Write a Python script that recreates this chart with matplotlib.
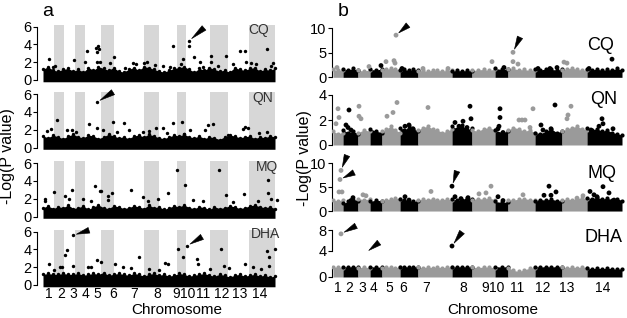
import numpy as np
import matplotlib.pyplot as plt

plt.rcParams['font.family'] = ['Liberation Sans', 'DejaVu Sans']

# ---- chromosome layout (map units along the genome) ----
chrom_labels = [str(i) for i in range(1, 15)]
a_bounds = [0, 11, 21, 32, 42, 58, 71, 101, 116, 134, 143, 167, 185, 206, 232]
b_bounds = [0, 10, 25, 37, 49, 67, 85, 119, 139, 162, 175, 202, 229, 254, 289]
traits = ['CQ', 'QN', 'MQ', 'DHA']

# ---- panel a: upper edge of the dense point cloud (evenly along the genome) ----
a_env = {
    'CQ': [1.2, 1.5, 1.1, 1.0, 1.2, 1.3, 1.0, 1.2, 0.9, 1.4, 1.1, 1.5, 1.3, 1.1, 1.4, 1.0,
           0.9, 1.2, 1.4, 1.1, 1.5, 1.4, 1.2, 1.0, 0.9, 1.1, 1.3, 1.4, 1.5, 1.2, 0.9, 1.3,
           1.1, 1.4, 1.2, 1.0, 1.1, 0.9, 1.4, 1.2, 1.1, 1.3, 1.4, 1.0, 1.2, 1.1, 1.3],
    'QN': [1.3, 1.1, 1.4, 1.2, 1.0, 1.3, 1.5, 1.2, 1.1, 1.4, 1.3, 1.0, 1.2, 1.5, 1.3, 1.1,
           1.2, 1.0, 1.3, 1.4, 1.2, 1.5, 1.3, 1.1, 1.0, 1.2, 1.4, 1.3, 1.5, 1.2, 1.1, 1.3,
           1.0, 1.2, 1.1, 0.9, 1.2, 1.4, 1.3, 1.1, 1.2, 1.3, 1.0, 1.2, 1.1, 1.3, 1.2],
    'MQ': [1.0, 1.2, 0.9, 1.1, 1.0, 1.3, 0.9, 1.0, 1.2, 0.8, 1.1, 1.3, 1.0, 0.9, 1.2, 1.1,
           0.9, 1.0, 1.2, 1.1, 0.9, 1.3, 1.0, 1.1, 0.8, 1.0, 1.2, 1.1, 1.3, 1.0, 0.9, 1.1,
           1.0, 0.8, 1.1, 0.9, 1.0, 1.2, 1.1, 0.9, 1.0, 1.2, 1.3, 1.1, 1.0, 1.1, 0.9],
    'DHA': [1.2, 1.3, 1.2, 1.2, 1.3, 1.2, 1.2, 1.3, 1.1, 1.2, 1.3, 1.2, 1.4, 1.1, 1.2, 1.3,
            1.2, 1.1, 1.3, 1.2, 1.0, 1.2, 1.3, 1.1, 1.2, 1.0, 1.1, 1.3, 1.2, 1.0, 1.1, 1.2,
            1.3, 1.1, 1.0, 1.2, 1.1, 0.9, 1.1, 1.2, 1.0, 1.1, 1.2, 1.0, 1.1, 0.9, 1.0],
}

# ---- panel a: individual markers above the cloud (position, -log P) ----
a_pos = {
    'CQ': [6, 31, 42, 44, 53, 54, 55, 56, 54, 71, 130, 146, 146, 140, 151, 168, 168, 183, 197,
           202, 224, 203, 208, 138, 157, 10, 12, 57, 67, 82, 90, 93, 101, 104, 112, 120, 127,
           160, 175, 190, 213, 230, 228],
    'QN': [54, 14, 70, 81, 130, 139, 46, 54, 165, 170, 202, 86, 24, 29, 4, 8, 113, 120, 106,
           147, 162, 200, 205, 224, 216, 33, 60, 74, 100, 124, 141, 185],
    'MQ': [134, 176, 142, 225, 225, 52, 57, 58, 29, 11, 88, 69, 125, 201, 65, 65, 22, 26, 183,
           234, 2, 2, 40, 48, 100, 105, 115, 150, 160, 190, 215, 228],
    'DHA': [30, 24, 22, 30, 6, 17, 19, 135, 144, 140, 154, 155, 178, 224, 232, 226, 96, 54, 58,
            72, 226, 202, 181, 186, 167, 11, 45, 48, 80, 88, 106, 116, 122, 125, 210, 218],
}
a_val = {
    'CQ': [2.4, 2.3, 2.0, 3.3, 3.6, 3.1, 3.8, 3.5, 2.0, 2.6, 3.8, 4.4, 3.8, 2.4, 2.6, 2.7, 2.0,
           2.7, 3.3, 3.3, 3.5, 2.0, 1.9, 1.8, 2.0, 1.5, 1.6, 2.0, 1.9, 1.4, 1.9, 1.8, 1.9, 2.0,
           1.7, 1.6, 1.5, 1.5, 1.6, 1.8, 1.8, 1.9, 1.6],
    'QN': [5.1, 3.1, 2.9, 2.8, 2.8, 2.9, 2.6, 2.2, 2.5, 2.7, 2.3, 2.0, 2.0, 2.0, 1.9, 2.1, 2.2,
           2.2, 1.9, 2.0, 2.0, 2.1, 2.2, 1.8, 1.6, 1.7, 2.0, 1.8, 1.8, 1.6, 1.5, 1.4],
    'MQ': [5.2, 5.2, 3.6, 4.1, 2.7, 3.4, 2.9, 2.9, 3.0, 2.8, 3.0, 2.6, 2.7, 2.5, 2.3, 1.9, 2.3,
           2.0, 2.4, 1.9, 2.0, 1.7, 2.0, 1.8, 2.2, 1.8, 2.0, 1.9, 1.8, 1.6, 1.8, 2.0],
    'DHA': [5.6, 3.9, 3.4, 2.1, 2.4, 2.0, 2.0, 4.1, 4.4, 3.2, 2.9, 2.4, 4.1, 3.8, 4.1, 3.2, 3.1,
            2.8, 2.6, 2.4, 2.1, 2.4, 2.1, 1.9, 1.8, 1.7, 2.0, 2.0, 2.0, 1.9, 1.8, 1.7, 2.5, 2.4,
            2.0, 1.8],
}

# ---- panel b: upper edge of the point band, per chromosome ----
b_env = {
    'CQ': [[1.6, 1.4, 1.5], [1.7, 1.5, 1.8, 1.4], [1.4, 1.3, 1.5], [1.6, 1.5, 1.7],
           [1.5, 1.6, 1.9, 1.7, 1.5], [1.5, 1.6, 1.4, 1.6, 1.5],
           [1.3, 1.4, 1.2, 1.5, 1.4, 1.3, 1.4, 1.5], [1.3, 1.4, 1.3, 1.4, 1.3],
           [1.4, 1.5, 1.6, 1.4, 1.7], [1.8, 1.6, 1.7], [1.7, 1.8, 1.5, 1.6, 1.4, 1.5],
           [1.6, 1.5, 1.7, 1.6, 1.5, 1.6], [1.5, 1.7, 1.9, 1.6, 1.5, 1.4],
           [1.6, 1.5, 1.7, 1.4, 1.6, 1.5, 1.8, 1.5]],
    'QN': [[1.1, 0.9, 1.0], [1.2, 1.0, 1.1, 0.9], [1.0, 1.2, 1.1], [1.3, 1.1, 1.0],
           [1.1, 1.3, 1.5, 1.2, 1.0], [1.4, 1.2, 1.5, 1.3, 1.1],
           [1.2, 1.4, 1.5, 1.3, 1.2, 1.0, 1.1, 1.3], [1.5, 1.3, 1.6, 1.2, 1.4],
           [1.2, 1.1, 1.3, 1.4, 1.2], [1.2, 1.0, 1.1], [1.2, 1.4, 1.3, 1.1, 1.2, 1.0],
           [1.0, 0.9, 1.1, 1.3, 1.0, 1.1], [1.1, 1.3, 1.4, 1.5, 1.3, 1.2],
           [1.4, 1.2, 1.3, 1.1, 1.2, 1.0, 0.9, 0.8]],
    'MQ': [[2.3, 2.1, 2.4], [1.6, 2.0, 2.4, 2.2], [2.6, 2.4, 2.5], [2.0, 2.3, 2.1],
           [2.2, 2.4, 2.5, 2.7, 2.5], [2.6, 2.4, 2.2, 2.0, 2.1],
           [2.3, 2.5, 2.4, 2.6, 2.3, 2.4, 2.5, 2.3], [2.5, 2.3, 2.4, 2.8, 2.6],
           [2.4, 2.6, 2.5, 2.7, 2.4], [2.0, 1.8, 1.9], [2.4, 2.3, 2.5, 2.6, 2.4, 2.3],
           [2.2, 2.4, 2.3, 2.5, 2.2, 2.1], [2.3, 2.5, 2.4, 2.6, 2.7, 2.5],
           [2.8, 2.6, 2.9, 2.5, 2.7, 2.4, 2.6, 2.2]],
    'DHA': [[1.8, 1.8, 1.7], [1.9, 1.8, 1.9, 1.8], [1.7, 1.8, 1.7], [1.9, 1.8, 1.8],
            [1.7, 1.8, 1.8, 1.7, 1.8], [1.8, 1.9, 1.8, 1.9, 1.8],
            [1.8, 1.7, 1.8, 1.7, 1.8, 1.7, 1.8, 1.8], [1.9, 1.8, 1.9, 1.8, 1.9],
            [1.8, 1.7, 1.8, 1.8, 1.7], [1.9, 1.8, 1.9], [1.7, 1.2, 1.0, 1.3, 1.6, 1.7],
            [1.9, 1.8, 1.9, 1.8, 1.9, 1.8], [1.8, 1.7, 1.8, 1.7, 1.8, 1.7],
            [1.6, 1.5, 1.6, 1.5, 1.6, 1.5, 1.4, 1.5]],
}

# ---- panel b: individual markers above the band ----
b_pos = {
    'CQ': [63, 4, 36, 48, 53, 61, 62, 69, 90, 115, 159, 171, 180, 180, 185, 205, 217, 224, 231,
           234, 279, 256],
    'QN': [5, 6, 3, 16, 26, 26, 28, 54, 60, 64, 95, 137, 138, 167, 167, 166, 186, 189, 192, 197,
           200, 208, 222, 234, 235, 238, 269, 270, 13, 15, 18, 72, 76, 80, 122, 126, 130, 134,
           165, 170, 210, 218, 258, 266, 280],
    'MQ': [8, 7, 6, 9, 18, 20, 30, 33, 72, 76, 98, 119, 122, 128, 135, 146, 153, 158, 165, 170,
           190, 211, 216, 223, 218, 244, 250, 257, 264, 270, 276, 281, 261],
    'DHA': [8, 119],
}
b_val = {
    'CQ': [8.6, 2.0, 2.2, 2.4, 3.2, 3.4, 2.9, 1.8, 1.8, 1.8, 3.2, 2.0, 5.1, 3.2, 2.7, 1.8, 1.8,
           2.0, 3.1, 2.9, 3.7, 1.8],
    'QN': [2.9, 2.2, 1.7, 2.8, 3.1, 2.3, 2.1, 2.3, 2.6, 3.4, 3.0, 3.1, 2.1, 2.9, 2.2, 1.5, 2.0,
           2.0, 2.0, 1.4, 2.9, 1.6, 3.2, 2.1, 2.4, 3.1, 2.1, 1.7, 1.6, 1.4, 1.2, 1.5, 1.6, 1.3,
           1.8, 1.5, 1.9, 1.4, 1.3, 1.0, 1.2, 1.3, 1.2, 1.5, 1.3],
    'MQ': [8.5, 6.6, 4.0, 4.0, 2.2, 2.8, 3.4, 3.2, 3.0, 2.3, 4.1, 5.2, 3.0, 2.6, 2.8, 3.6, 3.8,
           5.2, 3.0, 2.2, 3.4, 3.3, 5.2, 4.0, 3.3, 2.7, 3.2, 4.1, 3.0, 5.1, 3.8, 2.3, 3.4],
    'DHA': [7.3, 4.9],
}

# arrows: (trait, position, value, tail dx px, tail dy px)
a_arrows = [('CQ', 146, 4.4, 15, 13), ('QN', 54, 5.1, 16, 10),
            ('DHA', 30, 5.6, 16, 5), ('DHA', 144, 4.4, 15, 9)]
b_arrows = [('CQ', 63, 8.6, 12, 10), ('CQ', 180, 5.1, 7, 15),
            ('MQ', 8, 8.5, 6, 15), ('MQ', 7, 6.6, 14, 7), ('MQ', 119, 5.2, 5, 15),
            ('DHA', 8, 7.3, 15, 8), ('DHA', 33, 3.6, 13, 10), ('DHA', 119, 4.9, 10, 14)]

# tick label positions for chromosome numbers (map units)
a_label_x = [6, 18, 30, 42, 54, 70, 91, 114, 133.5, 145, 160, 179, 197, 217]
b_label_x = [5, 16, 29, 41, 56, 70, 93, 130, 152, 164, 184, 210, 234, 270]

W, H = 627, 318
fig = plt.figure(figsize=(W / 100, H / 100), dpi=100)
PX = 72 / 100  # points per pixel


def add_ax(x0, x1, ytop, ybot):
    return fig.add_axes([x0 / W, 1 - ybot / H, (x1 - x0) / W, (ybot - ytop) / H])


def style(ax, lo, hi, ticks):
    for s in ['top', 'right', 'bottom']:
        ax.spines[s].set_visible(False)
    ax.spines['left'].set_bounds(lo, hi)
    ax.spines['left'].set_linewidth(0.8)
    ax.set_yticks(ticks)
    ax.tick_params(axis='y', direction='out', length=3, width=0.8, labelsize=10.5, pad=1)
    ax.tick_params(axis='x', length=0)
    ax.set_xticks([])
    ax.patch.set_alpha(0)


def arrow(ax, x, y, dx, dy):
    ax.annotate('', xy=(x, y), xytext=(dx * PX, dy * PX), textcoords='offset points',
                annotation_clip=False,
                arrowprops=dict(arrowstyle='wedge,tail_width=0.42,shrink_factor=0.5',
                                fc='black', ec='black', lw=0.4, shrinkA=0, shrinkB=2.5,
                                clip_on=False))


# ---------------- panel a ----------------
a_zero = {'CQ': 80, 'QN': 147.5, 'MQ': 216.5, 'DHA': 285}
a_scale = 8.88
a_axes = {}
for t in traits:
    z = a_zero[t]
    ax = add_ax(37, 279, z - 6.35 * a_scale, z + 0.45 * a_scale)
    ax.set_xlim(-6, 236)
    ax.set_ylim(-0.45, 6.35)
    starts = np.array(a_bounds[:-1])
    widths = np.diff(a_bounds)
    ax.bar(starts[1::2], 6.2, widths[1::2], align='edge', color='#d7d7d7', lw=0, zorder=0)
    env = np.array(a_env[t])
    ex = np.linspace(a_bounds[0], a_bounds[-1], len(env))
    ax.fill_between(ex, -0.2, env, color='black', lw=0, zorder=2)
    ax.scatter(ex, env, s=6, color='black', lw=0, zorder=3)
    ax.scatter(a_pos[t], a_val[t], s=6, color='black', lw=0, zorder=3)
    style(ax, 0, 6, [0, 2, 4, 6])
    a_axes[t] = ax

a_text = {'CQ': (259, 30), 'QN': (263, 98), 'MQ': (267, 167), 'DHA': (265, 234)}
for t, (x, y) in a_text.items():
    fig.text(x / W, 1 - y / H, t, ha='center', va='center', fontsize=10, color='#333333')
for t, x, y, dx, dy in a_arrows:
    arrow(a_axes[t], x, y, dx, dy)

ax = a_axes['DHA']
ax.set_xticks(a_label_x)
ax.set_xticklabels(chrom_labels, fontsize=10)
ax.tick_params(axis='x', length=0, pad=-1.5)

# ---------------- panel b ----------------
b_specs = {  # ylim, top px, bottom px, spine bounds, ticks
    'CQ': ((-0.2, 10.5), 25.85, 78.3, (0, 10), [0, 5, 10]),
    'QN': ((-0.08, 4.2), 92.5, 146.0, (0, 4), [0, 2, 4]),
    'MQ': ((-0.2, 10.6), 160.4, 212.0, (0, 10), [0, 5, 10]),
    'DHA': ((3.8, 8.6), 227.3, 251.6, (4, 8), [4, 8]),
}
b_axes = {}
for t in traits:
    ylim, top, bot, bnd, ticks = b_specs[t]
    ax = add_ax(332, 624, top, bot)
    ax.set_xlim(-1, 291)
    ax.set_ylim(*ylim)
    style(ax, bnd[0], bnd[1], ticks)
    b_axes[t] = ax

b_low = add_ax(332, 624, 264.35, 277.8)
b_low.set_xlim(-1, 291)
b_low.set_ylim(-0.15, 2.3)
style(b_low, 0, 1.8, [0])

for t in traits:
    ax = b_low if t == 'DHA' else b_axes[t]
    for i in range(14):
        col = '#9a9a9a' if i % 2 == 0 else 'black'
        env = np.array(b_env[t][i])
        ex = np.linspace(b_bounds[i], b_bounds[i + 1], len(env))
        ax.fill_between(ex, 0, env, color=col, lw=0, zorder=2)
        ax.scatter(ex, env, s=9, color=col, lw=0, zorder=3)
    pos = np.array(b_pos[t])
    idx = np.clip(np.searchsorted(b_bounds, pos, side='right') - 1, 0, 13)
    cols = np.where(idx % 2 == 0, '#9a9a9a', 'black')
    b_axes[t].scatter(pos, b_val[t], s=12, c=cols, lw=0, zorder=3, clip_on=False)

b_text = {'CQ': (601, 45), 'QN': (604, 100), 'MQ': (602, 174), 'DHA': (604, 238)}
for t, (x, y) in b_text.items():
    fig.text(x / W, 1 - y / H, t, ha='center', va='center', fontsize=13)
for t, x, y, dx, dy in b_arrows:
    arrow(b_axes[t], x, y, dx, dy)

b_low.set_xticks(b_label_x)
b_low.set_xticklabels(chrom_labels, fontsize=10)
b_low.tick_params(axis='x', length=0, pad=2.5)

# ---------------- labels ----------------
fig.text(48 / W, 1 - 12 / H, 'a', ha='center', va='center', fontsize=14)
fig.text(343 / W, 1 - 12 / H, 'b', ha='center', va='center', fontsize=14)
fig.text(8 / W, 1 - 156 / H, '-Log(P value)', rotation=90, ha='center', va='center', fontsize=11.5)
fig.text(304 / W, 1 - 158 / H, '-Log(P value)', rotation=90, ha='center', va='center', fontsize=11.5)
fig.text(177 / W, 1 - 310 / H, 'Chromosome', ha='center', va='center', fontsize=11)
fig.text(493 / W, 1 - 310 / H, 'Chromosome', ha='center', va='center', fontsize=11)

fig.savefig('out.png', dpi=100)
